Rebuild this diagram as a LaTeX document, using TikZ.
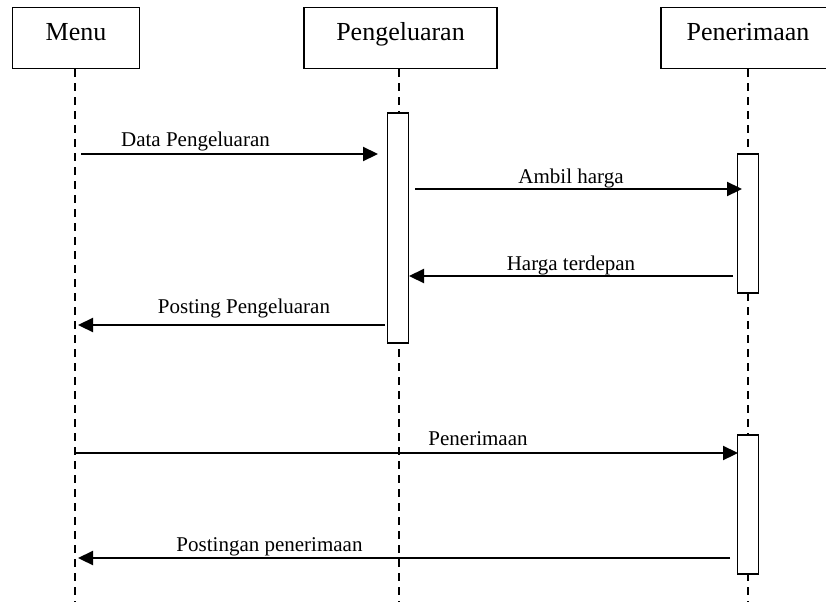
\documentclass[tikz,border=0pt]{standalone}
\usepackage{fontspec}
\setmainfont{Liberation Serif}
\usetikzlibrary{arrows.meta}
\begin{document}
\begin{tikzpicture}[x=1pt,y=-1pt,
  head/.style={draw,line width=1.4pt,fill=white,inner sep=0pt,
    minimum height=61pt,text height=0.7em,text depth=0.25em,
    font=\fontsize{26}{30}\selectfont},
  lifeline/.style={line width=1.2pt,dash pattern=on 8pt off 6pt},
  act/.style={draw,line width=1.4pt,fill=white,inner sep=0pt,minimum width=21pt},
  msg/.style={line width=2.2pt,-{Triangle[length=15pt,width=14pt]}},
  lbl/.style={anchor=base,inner sep=0pt,font=\fontsize{21}{25}\selectfont}
]
\useasboundingbox (0,0) rectangle (826,602);

% participants
\node[head,minimum width=127pt] (menu) at (76,37.8) {Menu};
\node[head,minimum width=193pt] (peng) at (400.5,37.8) {Pengeluaran};
\node[head,minimum width=174pt] (pene) at (748,37.8) {Penerimaan};

% lifelines
\coordinate (menuEnd) at (75,602);
\coordinate (pengEnd) at (399,602);
\coordinate (peneEnd) at (748,602);
\draw[lifeline] (menu.south -| menuEnd) -- (menuEnd);
\draw[lifeline] (peng.south -| pengEnd) -- (pengEnd);
\draw[lifeline] (pene.south -| peneEnd) -- (peneEnd);

% activation bars
\node[act,minimum height=230pt] (actA) at (398,228) {};
\node[act,minimum height=139pt] (actB) at (748,223.5) {};
\node[act,minimum height=139pt] (actC) at (748,504.5) {};

% message end points
\coordinate (m1s) at (81,154);   \coordinate (m1e) at (378,154);
\coordinate (m2s) at (415,189);  \coordinate (m2e) at (742,189);
\coordinate (m3s) at (733,276);  \coordinate (m3e) at (409,276);
\coordinate (m4s) at (385,325);  \coordinate (m4e) at (78,325);
\coordinate (m5s) at (75,453);   \coordinate (m5e) at (738,453);
\coordinate (m6s) at (730,558);  \coordinate (m6e) at (78,558);

% messages
\draw[msg] (m1s) -- (m1e);
\draw[msg] (m2s) -- (m2e);
\draw[msg] (m3s) -- (m3e);
\draw[msg] (m4s) -- (m4e);
\draw[msg] (m5s) -- (m5e);
\draw[msg] (m6s) -- (m6e);

% message labels
\node[lbl] (l1) at (195.5,146) {Data Pengeluaran};
\node[lbl] (l2) at (571,183) {Ambil harga};
\node[lbl] (l3) at (571,270) {Harga terdepan};
\node[lbl] (l4) at (244,313) {Posting Pengeluaran};
\node[lbl] (l5) at (478,445) {Penerimaan};
\node[lbl] (l6) at (269.5,551) {Postingan penerimaan};
\end{tikzpicture}
\end{document}
